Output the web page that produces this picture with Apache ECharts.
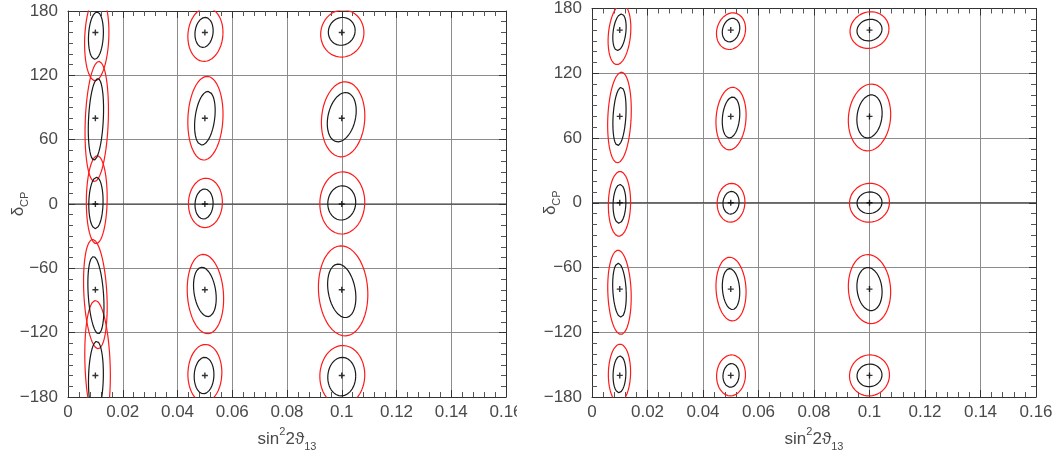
<!DOCTYPE html>
<html>
<head>
<meta charset="utf-8">
<script src="https://cdn.jsdelivr.net/npm/echarts@6/dist/echarts.min.js"></script>
<style>
html,body{margin:0;padding:0;background:#fff;}
#chart{width:1062px;height:457px;}
</style>
</head>
<body>
<div id="chart"></div>
<script>
// ---- data ----
const xTicks = [0, 0.02, 0.04, 0.06, 0.08, 0.10, 0.12, 0.14, 0.16];
const yTicks = [-180, -120, -60, 0, 60, 120, 180];
const trueS13 = [0.01, 0.05, 0.1];
const trueDcp = [160, 80, 0, -80, -160];

// contours: [centre sin2, centre delta, half-width sin2, half-height deg, lean sin2]
const leftBlack = [
  [0.0102, 157, 0.0027, 22, 0.0004], [0.0102, 79, 0.0027, 38, 0.0007], [0.0102, 1, 0.0026, 24, 0.0002],
  [0.0102, -85, 0.0028, 36, -0.0009], [0.0102, -162, 0.0027, 34, 0.0003],
  [0.0497, 160, 0.0033, 14, 0.0004], [0.0500, 80, 0.0036, 25, 0.0011], [0.0497, 0, 0.0033, 14, 0.0002],
  [0.0500, -82, 0.0040, 23, -0.0011], [0.0497, -160, 0.0036, 17, 0.0002],
  [0.1000, 161, 0.0049, 13, 0.0003], [0.1000, 81, 0.0051, 23, 0.0014], [0.1000, 1, 0.0051, 16, 0.0002],
  [0.1000, -81, 0.0050, 25, -0.0013], [0.1000, -161, 0.0051, 18, 0.0002]
];
const leftRed = [
  [0.0105, 155, 0.0044, 40, 0.0006], [0.0105, 77, 0.0042, 56, 0.0008], [0.0105, 4, 0.0038, 41, 0.0002],
  [0.0100, -84, 0.0042, 51, -0.0010], [0.0108, -150, 0.0046, 60, -0.0008],
  [0.0502, 158, 0.0064, 25, 0.0005], [0.0502, 80, 0.0064, 39, 0.0006], [0.0502, 1, 0.0062, 23, 0.0002],
  [0.0502, -84, 0.0066, 37, -0.0008], [0.0500, -158, 0.0062, 27, 0.0002],
  [0.1002, 159, 0.0079, 22, 0.0003], [0.1005, 79, 0.0079, 35, 0.0007], [0.1002, 1, 0.0082, 29, 0.0002],
  [0.1005, -81, 0.0090, 42, -0.0007], [0.1002, -160, 0.0082, 28, 0.0002]
];
const rightBlack = [
  [0.0099, 158, 0.0023, 17, 0.0007], [0.0099, 80, 0.0023, 27, 0.0006], [0.0099, -1, 0.0023, 18, 0.0002],
  [0.0099, -81, 0.0024, 25, -0.0005], [0.0099, -159, 0.0023, 17, 0.0002],
  [0.0501, 160, 0.0031, 11, 0.0006], [0.0501, 79, 0.0031, 19, 0.0006], [0.0501, 0, 0.0029, 10.5, 0.0002],
  [0.0501, -80, 0.0031, 19, -0.0005], [0.0501, -160, 0.0029, 11, 0.0002],
  [0.1000, 160, 0.0045, 10, 0.0004], [0.1000, 80, 0.0045, 20, 0.0007], [0.1000, 0, 0.0045, 10, 0.0002],
  [0.1000, -80, 0.0045, 20, -0.0006], [0.1000, -160, 0.0045, 10.5, 0.0002]
];
const rightRed = [
  [0.0099, 156, 0.0040, 28, 0.0009], [0.0099, 79, 0.0042, 42, 0.0007], [0.0099, -1, 0.0040, 30, 0.0002],
  [0.0099, -83, 0.0042, 39, -0.0005], [0.0099, -158, 0.0040, 27, 0.0002],
  [0.0501, 159, 0.0052, 17, 0.0007], [0.0501, 78, 0.0054, 29, 0.0006], [0.0501, 0, 0.0050, 18, 0.0002],
  [0.0501, -80, 0.0054, 29.5, -0.0005], [0.0501, -160, 0.0052, 19, 0.0002],
  [0.1000, 160, 0.0070, 17, 0.0005], [0.1000, 79, 0.0076, 31, 0.0007], [0.1000, 0, 0.0072, 18, 0.0002],
  [0.1000, -80, 0.0076, 32, -0.0006], [0.1000, -160, 0.0072, 19, 0.0002]
];

// ---- build ----
function ring(c) {
  const [cx, cy, a, b, s] = c, pts = [], n = 90;
  for (let i = 0; i <= n; i++) {
    const t = 2 * Math.PI * i / n;
    pts.push([cx + a * Math.cos(t) + s * Math.sin(t), cy + b * Math.sin(t)]);
  }
  return pts;
}
const FONT = "'Liberation Sans', 'DejaVu Sans', sans-serif";
const labelColor = '#4a4a4a';
const gridColor = '#8c8c8c';
const axisColor = '#333';

function fmtY(v) { return v < 0 ? '\u2212' + Math.abs(v) : String(v); }
function fmtX(v) { return v === 0 ? '0' : (Math.abs(v - 0.1) < 1e-9 ? '0.1' : v.toFixed(2)); }

function xAxes(gi) {
  return [{
    type: 'value', gridIndex: gi, min: 0, max: 0.16, interval: 0.02, position: 'bottom',
    axisLine: { onZero: false, lineStyle: { color: axisColor, width: 1 } },
    axisTick: { inside: true, length: 7, lineStyle: { color: axisColor } },
    minorTick: { show: true, splitNumber: 5, length: 5, lineStyle: { color: '#555' } },
    splitLine: { show: true, lineStyle: { color: gridColor, width: 1 } },
    axisLabel: { color: labelColor, fontSize: 17, fontFamily: FONT, margin: 7, showMaxLabel: true, formatter: fmtX },
    name: '{n|sin}{sup|2}{n|2\u03D1}{sub|13}', nameLocation: 'middle', nameGap: 29, nameMoveOverlap: false,
    nameTextStyle: {
      color: labelColor, fontFamily: FONT,
      rich: {
        n: { fontSize: 17, color: labelColor, fontFamily: FONT, lineHeight: 26, verticalAlign: 'middle' },
        sup: { fontSize: 11, color: labelColor, fontFamily: FONT, lineHeight: 26, verticalAlign: 'top' },
        sub: { fontSize: 11, color: labelColor, fontFamily: FONT, lineHeight: 26, verticalAlign: 'bottom' }
      }
    }
  }, {
    type: 'value', gridIndex: gi, min: 0, max: 0.16, interval: 0.02, position: 'top',
    axisLine: { onZero: false, lineStyle: { color: axisColor, width: 1 } },
    axisTick: { inside: true, length: 7, lineStyle: { color: axisColor } },
    minorTick: { show: true, splitNumber: 5, length: 5, lineStyle: { color: '#555' } },
    splitLine: { show: false }, axisLabel: { show: false }
  }];
}
function yAxes(gi, gap) {
  return [{
    type: 'value', gridIndex: gi, min: -180, max: 180, interval: 60, position: 'left',
    axisLine: { onZero: false, lineStyle: { color: axisColor, width: 1 } },
    axisTick: { inside: true, length: 7, lineStyle: { color: axisColor } },
    minorTick: { show: true, splitNumber: 6, length: 5, lineStyle: { color: '#555' } },
    splitLine: { show: true, lineStyle: { color: gridColor, width: 1 } },
    axisLabel: { color: labelColor, fontSize: 17, fontFamily: FONT, margin: 10, formatter: fmtY },
    name: '{n|\u03B4}{sub|CP}', nameLocation: 'middle', nameGap: gap, nameRotate: 90, nameMoveOverlap: false,
    nameTextStyle: {
      color: labelColor, fontFamily: FONT,
      rich: {
        n: { fontSize: 17, color: labelColor, fontFamily: FONT, lineHeight: 24, verticalAlign: 'middle' },
        sub: { fontSize: 11, color: labelColor, fontFamily: FONT, lineHeight: 24, verticalAlign: 'bottom' }
      }
    }
  }, {
    type: 'value', gridIndex: gi, min: -180, max: 180, interval: 60, position: 'right',
    axisLine: { onZero: false, lineStyle: { color: axisColor, width: 1 } },
    axisTick: { inside: true, length: 7, lineStyle: { color: axisColor } },
    minorTick: { show: true, splitNumber: 6, length: 5, lineStyle: { color: '#555' } },
    splitLine: { show: false }, axisLabel: { show: false }
  }];
}

const series = [];
function addPanel(gi, black, red) {
  const xi = gi * 2, yi = gi * 2;
  series.push({
    type: 'line', xAxisIndex: xi, yAxisIndex: yi, data: [[0, 0], [0.16, 0]],
    showSymbol: false, lineStyle: { color: '#333', width: 1 }, silent: true, z: 1
  });
  red.forEach(c => series.push({
    type: 'line', xAxisIndex: xi, yAxisIndex: yi, data: ring(c), showSymbol: false, smooth: false,
    clip: true, lineStyle: { color: '#ff1a1a', width: 1.2 }, silent: true, z: 3
  }));
  black.forEach(c => series.push({
    type: 'line', xAxisIndex: xi, yAxisIndex: yi, data: ring(c), showSymbol: false, smooth: false,
    clip: true, lineStyle: { color: '#1a1a1a', width: 1.2 }, silent: true, z: 4
  }));
  const pts = [];
  trueS13.forEach(x => trueDcp.forEach(d => pts.push([x, d])));
  series.push({
    type: 'scatter', xAxisIndex: xi, yAxisIndex: yi, data: pts,
    symbol: 'path://M-0.7,-3H0.7V3H-0.7Z M-3,-0.7H3V0.7H-3Z', symbolSize: 6,
    itemStyle: { color: '#000' }, silent: true, z: 5
  });
}
addPanel(0, leftBlack, leftRed);
addPanel(1, rightBlack, rightRed);

const chart = echarts.init(document.getElementById('chart'), null, { renderer: 'canvas' });
chart.setOption({
  animation: false,
  backgroundColor: '#fff',
  grid: [
    { left: 68, top: 11, width: 438, height: 393 },
    { left: 592, top: 8, width: 444, height: 398 }
  ],
  xAxis: xAxes(0).concat(xAxes(1)),
  yAxis: yAxes(0, 38).concat(yAxes(1, 30)),
  series: series,
  graphic: [{
    type: 'rect', left: 517, top: 404, shape: { width: 16, height: 24 },
    style: { fill: '#fff' }, z: 100
  }]
});
</script>
</body>
</html>
